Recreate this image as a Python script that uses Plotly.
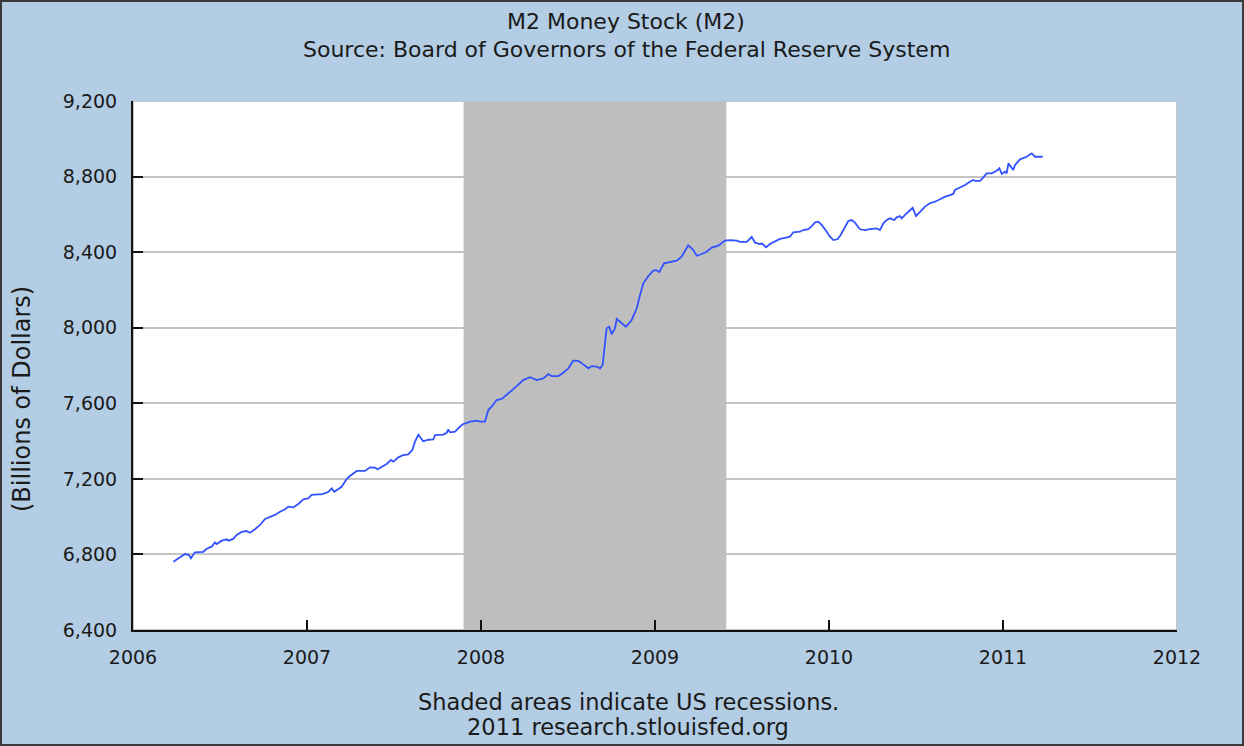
import plotly.graph_objects as go

# Weekly M2 money stock, billions of dollars
dates = [
    2006.232, 2006.270, 2006.299, 2006.322, 2006.333, 2006.356, 2006.404, 2006.424, 2006.452, 2006.471,
    2006.481, 2006.510, 2006.539, 2006.548, 2006.576, 2006.596, 2006.625, 2006.653, 2006.672, 2006.701,
    2006.730, 2006.759, 2006.787, 2006.816, 2006.845, 2006.874, 2006.893, 2006.921, 2006.950, 2006.979,
    2007.007, 2007.027, 2007.065, 2007.084, 2007.122, 2007.142, 2007.157, 2007.180, 2007.199, 2007.228,
    2007.247, 2007.286, 2007.333, 2007.362, 2007.391, 2007.406, 2007.429, 2007.458, 2007.483, 2007.496,
    2007.525, 2007.553, 2007.582, 2007.605, 2007.621, 2007.640, 2007.655, 2007.668, 2007.697, 2007.726,
    2007.736, 2007.783, 2007.803, 2007.812, 2007.822, 2007.851, 2007.879, 2007.895, 2007.927, 2007.937,
    2007.975, 2007.994, 2008.023, 2008.042, 2008.061, 2008.090, 2008.119, 2008.148, 2008.176, 2008.205,
    2008.243, 2008.282, 2008.320, 2008.358, 2008.387, 2008.406, 2008.444, 2008.473, 2008.502, 2008.530,
    2008.559, 2008.588, 2008.617, 2008.636, 2008.665, 2008.684, 2008.699, 2008.722, 2008.737, 2008.751,
    2008.770, 2008.780, 2008.809, 2008.833, 2008.866, 2008.895, 2008.914, 2008.933, 2008.962, 2008.990,
    2009.006, 2009.025, 2009.052, 2009.086, 2009.125, 2009.153, 2009.191, 2009.217, 2009.240, 2009.268,
    2009.297, 2009.326, 2009.364, 2009.402, 2009.431, 2009.470, 2009.489, 2009.527, 2009.556, 2009.575,
    2009.603, 2009.613, 2009.638, 2009.661, 2009.690, 2009.718, 2009.747, 2009.776, 2009.795, 2009.833,
    2009.852, 2009.881, 2009.901, 2009.920, 2009.938, 2009.958, 2009.983, 2010.006, 2010.025, 2010.048,
    2010.067, 2010.092, 2010.111, 2010.130, 2010.149, 2010.178, 2010.207, 2010.236, 2010.274, 2010.293,
    2010.312, 2010.332, 2010.351, 2010.375, 2010.389, 2010.408, 2010.418, 2010.447, 2010.466, 2010.481,
    2010.500, 2010.523, 2010.552, 2010.580, 2010.609, 2010.638, 2010.667, 2010.695, 2010.714, 2010.724,
    2010.753, 2010.782, 2010.810, 2010.829, 2010.839, 2010.868, 2010.887, 2010.906, 2010.935, 2010.964,
    2010.979, 2010.993, 2011.011, 2011.021, 2011.031, 2011.044, 2011.059, 2011.069, 2011.098, 2011.136,
    2011.165, 2011.184, 2011.203, 2011.228,
]
m2_values = [
    6761, 6785, 6802, 6797, 6780, 6811, 6814, 6830, 6841, 6864,
    6855, 6873, 6880, 6873, 6882, 6903, 6919, 6924, 6915, 6933,
    6956, 6988, 7000, 7009, 7026, 7039, 7053, 7049, 7067, 7092,
    7097, 7115, 7118, 7118, 7130, 7150, 7132, 7145, 7158, 7199,
    7215, 7242, 7242, 7261, 7259, 7251, 7264, 7279, 7300, 7291,
    7314, 7326, 7330, 7353, 7397, 7434, 7415, 7399, 7407, 7409,
    7432, 7434, 7444, 7462, 7446, 7450, 7476, 7489, 7499, 7503,
    7508, 7503, 7503, 7564, 7582, 7617, 7623, 7644, 7667, 7691,
    7723, 7738, 7723, 7732, 7755, 7744, 7744, 7762, 7785, 7825,
    7824, 7806, 7785, 7797, 7794, 7785, 7803, 7997, 8005, 7965,
    7997, 8046, 8023, 8005, 8041, 8103, 8173, 8235, 8274, 8302,
    8305, 8295, 8341, 8346, 8355, 8376, 8436, 8415, 8381, 8390,
    8402, 8424, 8434, 8461, 8464, 8461, 8454, 8454, 8480, 8450,
    8443, 8447, 8426, 8443, 8459, 8470, 8476, 8482, 8505, 8508,
    8517, 8522, 8538, 8558, 8561, 8544, 8513, 8482, 8464, 8468,
    8491, 8535, 8565, 8570, 8556, 8521, 8517, 8522, 8526, 8517,
    8553, 8570, 8579, 8570, 8584, 8591, 8579, 8606, 8623, 8635,
    8591, 8614, 8641, 8659, 8667, 8680, 8694, 8702, 8708, 8729,
    8741, 8755, 8773, 8782, 8777, 8777, 8796, 8817, 8817, 8831,
    8844, 8814, 8826, 8817, 8870, 8856, 8835, 8861, 8891, 8905,
    8923, 8905, 8905, 8905,
]
recession_start = 2007.90
recession_end = 2009.41
x_ticks = [2006, 2007, 2008, 2009, 2010, 2011, 2012]
y_ticks = [6400, 6800, 7200, 7600, 8000, 8400, 8800, 9200]

FONT = "DejaVu Sans"
BG = "#b3cde4"
TXT = "#1a1a1a"

fig = go.Figure()
fig.add_trace(go.Scatter(
    x=dates, y=m2_values, mode="lines",
    line=dict(color="#3352ff", width=1.8),
    hoverinfo="x+y", showlegend=False,
))

W, H = 1244, 746
L, R, T, B = 133, 67, 101, 116
pw, ph = W - L - R, H - T - B

def px(xp):
    return (xp - L) / pw

def py(yp):
    return (H - B - yp) / ph

shapes = [
    dict(type="rect", xref="x", yref="y", x0=2006, x1=2012, y0=6400, y1=9200,
         line=dict(color="#c4c4c4", width=2), fillcolor="rgba(0,0,0,0)", layer="below"),
    dict(type="rect", xref="x", yref="y", x0=recession_start, x1=recession_end,
         y0=6400, y1=9200, fillcolor="#bebebe", line=dict(width=0), layer="between"),
    dict(type="rect", xref="paper", yref="paper",
         x0=px(1), x1=px(W - 1), y0=py(H - 1), y1=py(1),
         line=dict(color="#3a3a3a", width=2), fillcolor="rgba(0,0,0,0)", layer="above"),
]

def ann(text, xp, yp, size, angle=0):
    return dict(text=text, x=px(xp), y=py(yp), xref="paper", yref="paper",
                showarrow=False, textangle=angle,
                font=dict(family=FONT, size=size, color=TXT),
                xanchor="center", yanchor="middle")

annotations = [
    ann("M2 Money Stock (M2)", 626, 22, 22),
    ann("Source: Board of Governors of the Federal Reserve System", 626, 50, 22),
    ann("(Billions of Dollars)", 22, 399, 24, -90),
    ann("Shaded areas indicate US recessions.", 628, 702, 22.5),
    ann("2011 research.stlouisfed.org", 628, 727, 22.5),
]

fig.update_layout(
    width=W, height=H,
    margin=dict(l=L, r=R, t=T, b=B, autoexpand=False),
    paper_bgcolor=BG, plot_bgcolor="white",
    font=dict(family=FONT, size=19, color=TXT),
    shapes=shapes, annotations=annotations,
    xaxis=dict(
        range=[2006, 2012], tickvals=x_ticks, ticktext=[str(v) for v in x_ticks],
        showgrid=False, zeroline=False,
        showline=True, linecolor="#111111", linewidth=2,
        ticks="inside", ticklen=10, tickwidth=2, tickcolor="#111111",
        ticklabelstandoff=9,
        tickfont=dict(family=FONT, size=19, color=TXT),
    ),
    yaxis=dict(
        range=[6400, 9200], tickvals=y_ticks, tickformat=",d",
        showgrid=True, gridcolor="#c4c4c4", gridwidth=2, zeroline=False,
        showline=True, linecolor="#111111", linewidth=2,
        ticks="inside", ticklen=10, tickwidth=2, tickcolor="#111111",
        ticklabelstandoff=10,
        tickfont=dict(family=FONT, size=19, color=TXT),
    ),
)

fig.write_html(
    "out.html",
    config={"displayModeBar": False},
    post_script="document.body.style.margin='0px';document.body.style.background='" + BG + "';",
)
